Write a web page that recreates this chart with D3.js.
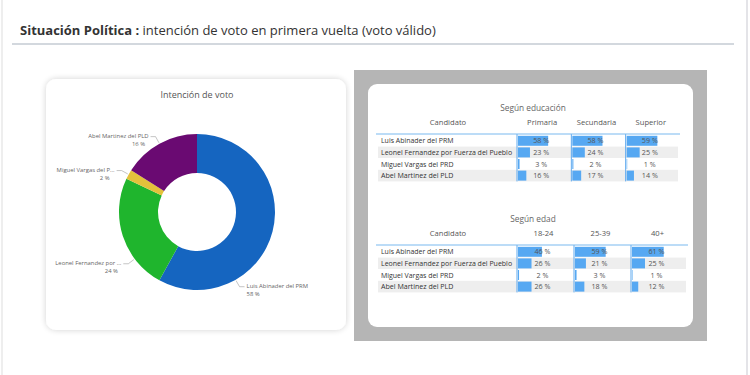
<!DOCTYPE html>
<html>
<head>
<meta charset="utf-8">
<script src="https://cdn.jsdelivr.net/npm/d3@7"></script>
<style>
  body { margin: 0; background: #fff; }
  svg { display: block; font-family: "Open Sans", sans-serif; }
</style>
</head>
<body>
<svg id="svg" width="750" height="375"></svg>
<script>
// data
var candidates = ["Luis Abinader del PRM", "Leonel Fernandez por Fuerza del Pueblo", "Miguel Vargas del PRD", "Abel Martinez del PLD"];
var donutLabels = ["Luis Abinader del PRM", "Leonel Fernandez por ...", "Miguel Vargas del P...", "Abel Martinez del PLD"];
var voteShare = [58, 24, 2, 16];
var eduCols = ["Primaria", "Secundaria", "Superior"];
var eduValues = [[58, 58, 59], [23, 24, 25], [3, 2, 1], [16, 17, 14]];
var ageCols = ["18-24", "25-39", "40+"];
var ageValues = [[46, 59, 61], [26, 21, 25], [2, 3, 1], [26, 18, 12]];

var colors = ["#1565c0", "#1fb52d", "#e3c13b", "#6a0a72"];
// where along each slice the leader line starts (0..1)
var labelFrac = [0.72, 0.28, 0.5, 0.5];

var svg = d3.select("#svg");

// page edges
svg.append("line").attr("x1", 747).attr("x2", 747).attr("y1", 0).attr("y2", 375)
   .attr("stroke", "#e4e4e8").attr("stroke-width", 2);
svg.append("line").attr("x1", 2).attr("x2", 2).attr("y1", 0).attr("y2", 375)
   .attr("stroke", "#eeeeee").attr("stroke-width", 2);

// header
var head = svg.append("text").attr("x", 20).attr("y", 35).attr("font-size", 13)
   .attr("fill", "#333");
head.append("tspan").attr("font-weight", "bold").text("Situación Política : ");
head.append("tspan").text("intención de voto en primera vuelta (voto válido)");
svg.append("line").attr("x1", 12).attr("x2", 734).attr("y1", 44).attr("y2", 44)
   .attr("stroke", "#c5cbd3").attr("stroke-width", 1.5);

// left card
var defs = svg.append("defs");
var f = defs.append("filter").attr("id", "sh").attr("x", "-10%").attr("y", "-10%").attr("width", "120%").attr("height", "120%");
f.append("feGaussianBlur").attr("in", "SourceAlpha").attr("stdDeviation", 3);
f.append("feComponentTransfer").append("feFuncA").attr("type", "linear").attr("slope", 0.18);
var fm = f.append("feMerge");
fm.append("feMergeNode");
fm.append("feMergeNode").attr("in", "SourceGraphic");

svg.append("rect").attr("x", 46).attr("y", 79).attr("width", 300).attr("height", 251)
   .attr("rx", 10).attr("fill", "#fff").attr("filter", "url(#sh)");
svg.append("text").attr("x", 197).attr("y", 98).attr("text-anchor", "middle")
   .attr("font-size", 9).attr("fill", "#555").text("Intención de voto");

var cx = 197, cy = 212, rOut = 78, rIn = 39;
var pie = d3.pie().sort(null).value(function(d) { return d; });
var arcs = pie(voteShare);
var arc = d3.arc().innerRadius(rIn).outerRadius(rOut);
var g = svg.append("g").attr("transform", "translate(" + cx + "," + cy + ")");
g.selectAll("path").data(arcs).enter().append("path")
  .attr("d", arc).attr("fill", function(d, i) { return colors[i]; });

arcs.forEach(function(d, i) {
  var a = d.startAngle + (d.endAngle - d.startAngle) * labelFrac[i];
  var p1 = [Math.sin(a) * (rOut + 1), -Math.cos(a) * (rOut + 1)];
  var p2 = [Math.sin(a) * (rOut + 8), -Math.cos(a) * (rOut + 8)];
  var right = Math.sin(a) > 0;
  var p3 = [p2[0] + (right ? 5 : -5), p2[1]];
  g.append("polyline").attr("points", [p1, p2, p3].map(function(p) { return p.join(","); }).join(" "))
    .attr("fill", "none").attr("stroke", "#aaa").attr("stroke-width", 0.7);
  var tx = p3[0] + (right ? 2 : -2);
  var t = g.append("text").attr("font-size", 5.9).attr("fill", "#666")
    .attr("text-anchor", right ? "start" : "end");
  t.append("tspan").attr("x", tx).attr("y", p3[1] + 1).text(donutLabels[i]);
  t.append("tspan").attr("x", right ? tx : tx - 10).attr("y", p3[1] + 9)
    .attr("text-anchor", right ? "start" : "middle").text(voteShare[i] + " %");
});

// right panel
svg.append("rect").attr("x", 354).attr("y", 70).attr("width", 353).attr("height", 271).attr("fill", "#b5b5b5");
svg.append("rect").attr("x", 368).attr("y", 84).attr("width", 325).attr("height", 243).attr("rx", 9).attr("fill", "#fff");

var barScale = d3.scaleLinear().domain([0, 100]).range([0, 52]);

function drawTable(title, cols, values, top, right) {
  var left = 378, colStart = 517, rowH = 11.6;
  var t = svg.append("g");
  t.append("text").attr("x", 533).attr("y", top).attr("text-anchor", "middle")
    .attr("font-size", 8.3).attr("fill", "#666").text(title);
  var x = d3.scaleBand().domain(cols).range([colStart, right]);
  var hy = top + 14;
  t.append("text").attr("x", 448).attr("y", hy).attr("text-anchor", "middle")
    .attr("font-size", 7.6).attr("fill", "#555").text("Candidato");
  t.selectAll(".ch").data(cols).enter().append("text")
    .attr("x", function(c) { return x(c) + x.bandwidth() / 2 - 2; }).attr("y", hy)
    .attr("text-anchor", "middle").attr("font-size", 7.6).attr("fill", "#555").text(function(c) { return c; });

  var y0 = hy + 9;
  var y = d3.scaleBand().domain(d3.range(candidates.length)).range([y0 + 1, y0 + 1 + rowH * candidates.length]);
  t.selectAll(".rb").data(candidates).enter().append("rect")
    .attr("x", left).attr("width", right - 2 - left)
    .attr("y", function(d, i) { return y(i); }).attr("height", y.bandwidth())
    .attr("fill", function(d, i) { return i % 2 ? "#eeeeee" : "#fff"; });
  t.selectAll(".cn").data(candidates).enter().append("text")
    .attr("x", left + 3).attr("y", function(d, i) { return y(i) + y.bandwidth() / 2 + 2.6; })
    .attr("font-size", 7.5).attr("textLength", function(d) { return d.length * 3.45; })
    .attr("lengthAdjust", "spacingAndGlyphs")
    .attr("fill", "#333").text(function(d) { return d; });

  values.forEach(function(row, i) {
    row.forEach(function(v, j) {
      var cx0 = x(cols[j]);
      t.append("rect").attr("x", cx0 + 1).attr("y", y(i) + 0.8)
        .attr("width", barScale(v)).attr("height", y.bandwidth() - 1.6).attr("fill", "#56a8f2");
      t.append("text").attr("x", cx0 + x.bandwidth() / 2 - 3).attr("y", y(i) + y.bandwidth() / 2 + 2.6)
        .attr("text-anchor", "middle").attr("font-size", 7.2).attr("fill", "#555").text(v + " %");
    });
  });
  cols.forEach(function(c) {
    t.append("line").attr("x1", x(c)).attr("x2", x(c)).attr("y1", y0).attr("y2", y0 + 1 + rowH * candidates.length)
      .attr("stroke", "#5ea9ee").attr("stroke-width", 1);
  });
  t.append("line").attr("x1", left - 2).attr("x2", right).attr("y1", y0).attr("y2", y0)
    .attr("stroke", "#7ab9f0").attr("stroke-width", 1.2);
}

drawTable("Según educación", eduCols, eduValues, 111, 680);
drawTable("Según edad", ageCols, ageValues, 222, 688);
</script>
</body>
</html>
